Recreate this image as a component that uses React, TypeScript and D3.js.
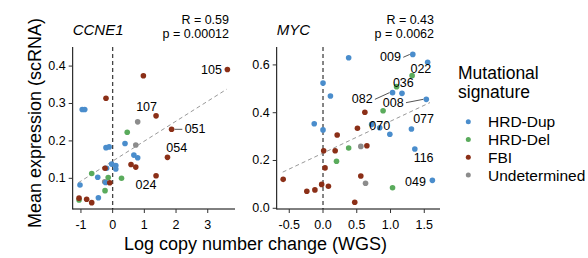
import React from "react";
import * as d3 from "d3";

// signature codes: 0 = HRD-Dup, 1 = HRD-Del, 2 = FBI, 3 = Undetermined
const sigNames = ["HRD-Dup", "HRD-Del", "FBI", "Undetermined"];
const sigColors = ["#4a8dcc", "#5aab5c", "#8b2f17", "#8c8c8c"];

// CCNE1 panel: [log copy number change, mean expression, signature]
const ccne1Points: [number, number, number][] = [
  [-0.25, 0.091, 3], [0.79, 0.251, 3], [0.73, 0.189, 3],
  [-0.96, 0.284, 0], [-0.88, 0.284, 0], [-0.21, 0.182, 0], [-0.11, 0.184, 0],
  [0.39, 0.193, 0], [0.67, 0.162, 0], [0.79, 0.155, 0], [-0.03, 0.138, 0],
  [0.1, 0.134, 0], [0.1, 0.125, 0], [-0.47, 0.103, 0], [-0.19, 0.127, 0],
  [-0.22, 0.089, 0], [-1.03, 0.082, 0], [-0.45, 0.048, 0],
  [0.46, 0.223, 1], [-0.66, 0.113, 1], [-0.14, 0.102, 1], [0.28, 0.1, 1],
  [-0.24, 0.067, 1], [-1.06, 0.042, 1],
  [0.97, 0.374, 2], [-0.21, 0.314, 2], [1.37, 0.267, 2], [0.58, 0.137, 2],
  [0.73, 0.13, 2], [-0.24, 0.127, 2], [-0.09, 0.088, 2], [1.37, 0.107, 2],
  [-1.06, 0.047, 2], [-0.82, 0.044, 2], [-0.66, 0.035, 2], [3.62, 0.391, 2],
  [1.86, 0.231, 2], [1.73, 0.156, 2],
];

// MYC panel
const mycPoints: [number, number, number][] = [
  [0.56, 0.259, 3], [0.63, 0.105, 3],
  [0.38, 0.63, 0], [0, 0.524, 0], [0.11, 0.47, 0], [-0.13, 0.354, 0],
  [0, 0.328, 0], [1.33, 0.644, 0], [1.55, 0.611, 0], [1.03, 0.484, 0],
  [1.17, 0.481, 0], [1.53, 0.456, 0], [1.31, 0.332, 0], [0.99, 0.31, 0],
  [0.84, 0.337, 0], [0.72, 0.351, 0], [1.36, 0.248, 0], [1.62, 0.117, 0],
  [0.38, 0.252, 1], [0.2, 0.197, 1], [0.89, 0.408, 1], [1.32, 0.555, 1],
  [1.09, 0.509, 1], [1.03, 0.086, 1],
  [0.51, 0.335, 2], [0.21, 0.307, 2], [0.01, 0.241, 2], [0.18, 0.241, 2],
  [0.03, 0.169, 2], [-0.59, 0.121, 2], [-0.24, 0.071, 2], [-0.12, 0.077, 2],
  [-0.02, 0.1, 2], [0.08, 0.092, 2], [0.47, 0.025, 2], [0.62, 0.402, 2],
  [0.65, 0.262, 2], [0.56, 0.135, 2],
];

// sample labels: [text, label x, label y, point x, point y, draw segment]
const ccne1Labels: [string, number, number, number, number, boolean][] = [
  ["105", 3.12, 0.389, 3.62, 0.391, false],
  ["107", 1.07, 0.291, 1.37, 0.267, false],
  ["051", 2.6, 0.231, 1.86, 0.231, true],
  ["054", 2.02, 0.18, 1.73, 0.156, false],
  ["024", 1.05, 0.082, 1.37, 0.107, false],
];
const mycLabels: [string, number, number, number, number, boolean][] = [
  ["009", 1.0, 0.632, 1.33, 0.644, true],
  ["022", 1.45, 0.582, 1.55, 0.611, false],
  ["036", 1.19, 0.523, 1.09, 0.509, false],
  ["082", 0.58, 0.456, 1.03, 0.484, true],
  ["008", 1.04, 0.442, 1.53, 0.456, true],
  ["070", 0.84, 0.344, 0.84, 0.337, false],
  ["077", 1.49, 0.372, 1.31, 0.332, false],
  ["116", 1.49, 0.209, 1.36, 0.248, false],
  ["049", 1.37, 0.111, 1.62, 0.117, false],
];

// fitted lines: [intercept, slope, x from, x to]
const ccne1Fit = [0.146, 0.0534, -1.085, 3.6];
const mycFit = [0.231, 0.1334, -0.597, 1.585];

const ccne1XTicks = [-1, 0, 1, 2, 3];
const ccne1YTicks = [0.1, 0.2, 0.3, 0.4];
const mycXTicks = [-0.5, 0, 0.5, 1, 1.5];
const mycYTicks = [0, 0.2, 0.4, 0.6];

const font = "'Liberation Sans', Arial, sans-serif";

function Panel({ title, r, p, left, right, xDomain, yDomain, xTicks, yTicks, points, labels, fit, xFmt }: any) {
  const top = 47;
  const bottom = 209;
  const x = d3.scaleLinear().domain(xDomain).range([left, right]);
  const y = d3.scaleLinear().domain(yDomain).range([bottom, top]);
  const fmtY = d3.format(".1f");
  const labelW = 21.5;
  return (
    <g>
      <text x={left} y={35} fontSize={15} fontStyle="italic">{title}</text>
      <text x={right - 6} y={24} fontSize={12.5} textAnchor="end">{r}</text>
      <text x={right - 6} y={37.5} fontSize={12.5} textAnchor="end">{p}</text>
      <line x1={x(0)} x2={x(0)} y1={top} y2={bottom} stroke="#444" strokeWidth={1.3} strokeDasharray="4,3" />
      <line x1={x(fit[2])} x2={x(fit[3])} y1={y(fit[0] + fit[1] * fit[2])} y2={y(fit[0] + fit[1] * fit[3])}
        stroke="#999" strokeWidth={1} strokeDasharray="4,3" />
      {points.map((d: any, i: number) => (
        <circle key={i} cx={x(d[0])} cy={y(d[1])} r={2.8} fill={sigColors[d[2]]} />
      ))}
      {labels.map((l: any, i: number) => {
        const lx = x(l[1]);
        const ly = y(l[2]);
        const px = x(l[3]);
        const py = y(l[4]);
        let seg = null;
        if (l[5]) {
          const sx = px > lx ? lx + labelW / 2 + 2 : lx - labelW / 2 - 2;
          const ex = px > lx ? px - 3 : px + 3;
          seg = <line x1={sx} y1={ly} x2={ex} y2={py} stroke="#555" strokeWidth={1} />;
        }
        return (
          <g key={i}>
            {seg}
            <text x={lx} y={ly} fontSize={12.5} textAnchor="middle" dominantBaseline="central">{l[0]}</text>
          </g>
        );
      })}
      <line x1={left} x2={left} y1={top} y2={bottom + 0.5} stroke="#000" strokeWidth={1} />
      <line x1={left} x2={right} y1={bottom} y2={bottom} stroke="#000" strokeWidth={1} />
      {yTicks.map((t: number) => (
        <g key={t}>
          <line x1={left - 4} x2={left} y1={y(t)} y2={y(t)} stroke="#333" />
          <text x={left - 7} y={y(t)} fontSize={12.5} textAnchor="end" dominantBaseline="central">{fmtY(t)}</text>
        </g>
      ))}
      {xTicks.map((t: number) => (
        <g key={t}>
          <line x1={x(t)} x2={x(t)} y1={bottom} y2={bottom + 4} stroke="#333" />
          <text x={x(t)} y={229} fontSize={12.5} textAnchor="middle">{xFmt(t).replace("−", "-")}</text>
        </g>
      ))}
    </g>
  );
}

export default function App() {
  return (
    <svg width={588} height={258} style={{ position: "absolute", left: 0, top: 0 }} fontFamily={font}>
      <rect width={588} height={258} fill="#fff" />
      <text transform="translate(41,123) rotate(-90)" fontSize={18} textAnchor="middle">Mean expression (scRNA)</text>
      <Panel title="CCNE1" r="R = 0.59" p="p = 0.00012" left={72.7} right={235}
        xDomain={[-1.26, 3.86]} yDomain={[0.018, 0.451]} xTicks={ccne1XTicks} yTicks={ccne1YTicks}
        points={ccne1Points} labels={ccne1Labels} fit={ccne1Fit} xFmt={d3.format("d")} />
      <Panel title="MYC" r="R = 0.43" p="p = 0.0062" left={276.7} right={440}
        xDomain={[-0.686, 1.733]} yDomain={[-0.003, 0.675]} xTicks={mycXTicks} yTicks={mycYTicks}
        points={mycPoints} labels={mycLabels} fit={mycFit} xFmt={d3.format(".1f")} />
      <text x={255.5} y={250} fontSize={18} textAnchor="middle">Log copy number change (WGS)</text>
      <text x={458} y={79} fontSize={17.5}>Mutational</text>
      <text x={458} y={97.5} fontSize={17.5}>signature</text>
      {sigNames.map((s, i) => (
        <g key={s}>
          <circle cx={468.3} cy={121.7 + i * 17.8} r={2.5} fill={sigColors[i]} />
          <text x={488} y={121.7 + i * 17.8} fontSize={15.5} dominantBaseline="central">{s}</text>
        </g>
      ))}
    </svg>
  );
}
